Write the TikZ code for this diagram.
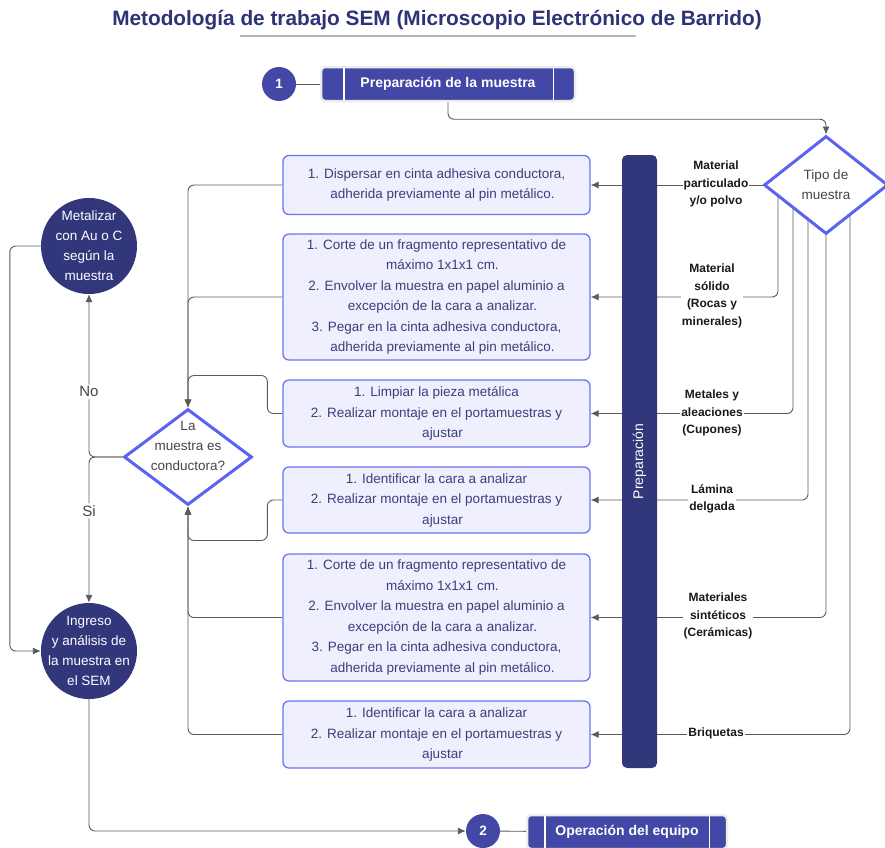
\documentclass[tikz,border=0pt]{standalone}
\usepackage{fontspec}
\setmainfont{Liberation Sans}
\usepackage{tikz}
\usepackage{xcolor}
\usetikzlibrary{positioning,shapes.geometric,arrows.meta,backgrounds}

\definecolor{titlenavy}{HTML}{2E3278}
\definecolor{stepblue}{HTML}{4348A6}
\definecolor{darknavy}{HTML}{32367B}
\definecolor{boxfill}{HTML}{EFEFFD}
\definecolor{boxline}{HTML}{6C74F4}
\definecolor{boxtext}{HTML}{3B3F7A}
\definecolor{qline}{HTML}{5C63F2}
\definecolor{qtext}{HTML}{454545}
\definecolor{linegray}{HTML}{5A5A5A}
\definecolor{rulegray}{HTML}{B4B6C2}

\newcommand{\contline}{\hspace*{12pt}}

\begin{document}
\begin{tikzpicture}[x=1pt, y=-1pt,
    >={Latex[length=8pt,width=7pt]},
    line/.style={draw=linegray, line width=0.9pt, rounded corners=6pt},
    stepdot/.style={circle, fill=stepblue, text=white, minimum size=34pt, inner sep=0pt,
                    font=\fontsize{13.5}{16}\selectfont\bfseries},
    stepbox/.style={rectangle, rounded corners=4pt, fill=stepblue, draw=black!7, line width=2.5pt,
                    text=white, minimum height=34pt, font=\fontsize{14}{16}\selectfont\bfseries},
    task/.style={rectangle, rounded corners=6pt, fill=boxfill, draw=boxline, line width=1.3pt,
                 text=boxtext, minimum width=307pt, align=center, inner sep=0pt,
                 font=\fontsize{13.5}{20.5}\selectfont},
    question/.style={diamond, draw=qline, line width=3pt, fill=white, text=qtext, align=center,
                     inner xsep=-10pt, inner ysep=-12pt, shape aspect=1.3,
                     font=\fontsize{13.5}{20}\selectfont},
    action/.style={circle, fill=darknavy, text=white, align=center, inner sep=-8pt,
                   minimum size=96pt, font=\fontsize{13.5}{20}\selectfont},
    kind/.style={fill=white, inner sep=1pt, align=center, text=black!90,
                 font=\fontsize{12}{17.5}\selectfont\bfseries},
    answer/.style={fill=white, inner sep=2pt, text=qtext, font=\fontsize{15}{18}\selectfont}]
      %\draw [dotted] (0,0) grid[step=50] (885,847);
      \useasboundingbox (0,0) rectangle (885,847);

      \node [font=\fontsize{20.8}{24}\selectfont\bfseries, text=titlenavy] (title) at (437,20)
            {Metodología de trabajo SEM (Microscopio Electrónico de Barrido)};
      \draw [rulegray, line width=1.2pt] (240,36) -- (636,36);

      \node [stepdot]                      (one) at (279,  84) {1};
      \node [stepbox, minimum width=254pt] (prep) at (448, 84) {Preparación de la muestra};
      \draw [white, line width=1.5pt] ([xshift=24pt,yshift=-2pt]prep.north west) -- ([xshift=24pt,yshift=2pt]prep.south west);
      \draw [white, line width=1.5pt] ([xshift=-23pt,yshift=-2pt]prep.north east) -- ([xshift=-23pt,yshift=2pt]prep.south east);

      \node [question, minimum width=124pt, minimum height=98pt] (tipo) at (826,185) {Tipo de\\muestra};

      \node [rectangle, rounded corners=5pt, fill=darknavy, rotate=90, minimum width=613pt,
             minimum height=35pt, text=white, font=\fontsize{14}{16}\selectfont] (barra) at (639.5,461.5) {Preparación};

      \node [task, minimum height=59pt]  (tpart)  at (436.5,185) {1. Dispersar en cinta adhesiva conductora,\\
             \contline adherida previamente al pin metálico.};
      \node [task, minimum height=126pt] (tsolid) at (436.5,297) {1. Corte de un fragmento representativo de\\
             \contline máximo 1x1x1 cm.\\ 2. Envolver la muestra en papel aluminio a\\
             \contline excepción de la cara a analizar.\\ 3. Pegar en la cinta adhesiva conductora,\\
             \contline adherida previamente al pin metálico.};
      \node [task, minimum height=67pt]  (tmetal) at (436.5,413.5) {1. Limpiar la pieza metálica\\
             2. Realizar montaje en el portamuestras y\\ \contline ajustar};
      \node [task, minimum height=66pt]  (tfilm)  at (436.5,500) {1. Identificar la cara a analizar\\
             2. Realizar montaje en el portamuestras y\\ \contline ajustar};
      \node [task, minimum height=127pt] (tsynth) at (436.5,617.5) {1. Corte de un fragmento representativo de\\
             \contline máximo 1x1x1 cm.\\ 2. Envolver la muestra en papel aluminio a\\
             \contline excepción de la cara a analizar.\\ 3. Pegar en la cinta adhesiva conductora,\\
             \contline adherida previamente al pin metálico.};
      \node [task, minimum height=67pt]  (tbriq)  at (436.5,734.5) {1. Identificar la cara a analizar\\
             2. Realizar montaje en el portamuestras y\\ \contline ajustar};

      \node [kind] (kpart)  at (716,184) {Material\\particulado\\y/o polvo};
      \node [kind] (ksolid) at (712,296) {Material\\sólido\\(Rocas y\\minerales)};
      \node [kind] (kmetal) at (712,413) {Metales y\\aleaciones\\(Cupones)};
      \node [kind] (kfilm)  at (712,499) {Lámina\\delgada};
      \node [kind] (ksynth) at (718,616) {Materiales\\sintéticos\\(Cerámicas)};
      \node [kind] (kbriq)  at (716,733) {Briquetas};

      \node [question, minimum width=128pt, minimum height=96pt, text depth=22pt] (cond) at (188,457) {La\\muestra es\\conductora?};
      \node [action] (metalizar) at (89,246) {Metalizar\\con Au o C\\según la\\muestra};
      \node [action] (ingreso)   at (89,651) {Ingreso\\y análisis de\\la muestra en\\el SEM};

      \node [stepdot]                      (two)  at (483,831) {2};
      \node [stepbox, minimum width=200pt] (oper) at (627,832) {Operación del equipo};
      \draw [white, line width=1.5pt] ([xshift=19pt,yshift=-2pt]oper.north west) -- ([xshift=19pt,yshift=2pt]oper.south west);
      \draw [white, line width=1.5pt] ([xshift=-19pt,yshift=-2pt]oper.north east) -- ([xshift=-19pt,yshift=2pt]oper.south east);

      \draw [line] (one) -- (prep);
      \draw [line, ->] (prep.south) -- ++(0,17) -| (tipo.north);

      \begin{scope}[on background layer]
        \draw [line, ->] (tipo.west) -- (tpart.east);
        \draw [line, ->] ([xshift=-48pt]tipo.center) |- (tsolid.east);
        \draw [line, ->] ([xshift=-33pt]tipo.center) |- (tmetal.east);
        \draw [line, ->] ([xshift=-18pt]tipo.center) |- (tfilm.east);
        \draw [line, ->] (tipo.center) |- (tsynth.east);
        \draw [line, ->] ([xshift=24pt]tipo.center) |- (tbriq.east);
      \end{scope}

      \draw [line, ->] (tpart.west) -| (cond.north);
      \draw [line, ->] (tsolid.west) -| (cond.north);
      \draw [line, ->] (tmetal.west) -- ++(-15,0) |- ([yshift=32pt]cond.north) -- (cond.north);
      \draw [line, ->] (tfilm.west) -- ++(-15,0) |- ([yshift=-34pt]cond.south) -- (cond.south);
      \draw [line, ->] (tsynth.west) -| (cond.south);
      \draw [line, ->] (tbriq.west) -| (cond.south);

      \draw [line, ->] (cond.west) -| (metalizar.south) node [answer, pos=0.7] {No};
      \draw [line, ->] (cond.west) -| (ingreso.north) node [answer, pos=0.685] {Si};
      \draw [line, ->] (metalizar.west) -- ++(-31,0) |- (ingreso.west);
      \draw [line, ->] (ingreso.south) |- (two.west);
      \draw [line] (two) -- (oper);
\end{tikzpicture}
\end{document}
